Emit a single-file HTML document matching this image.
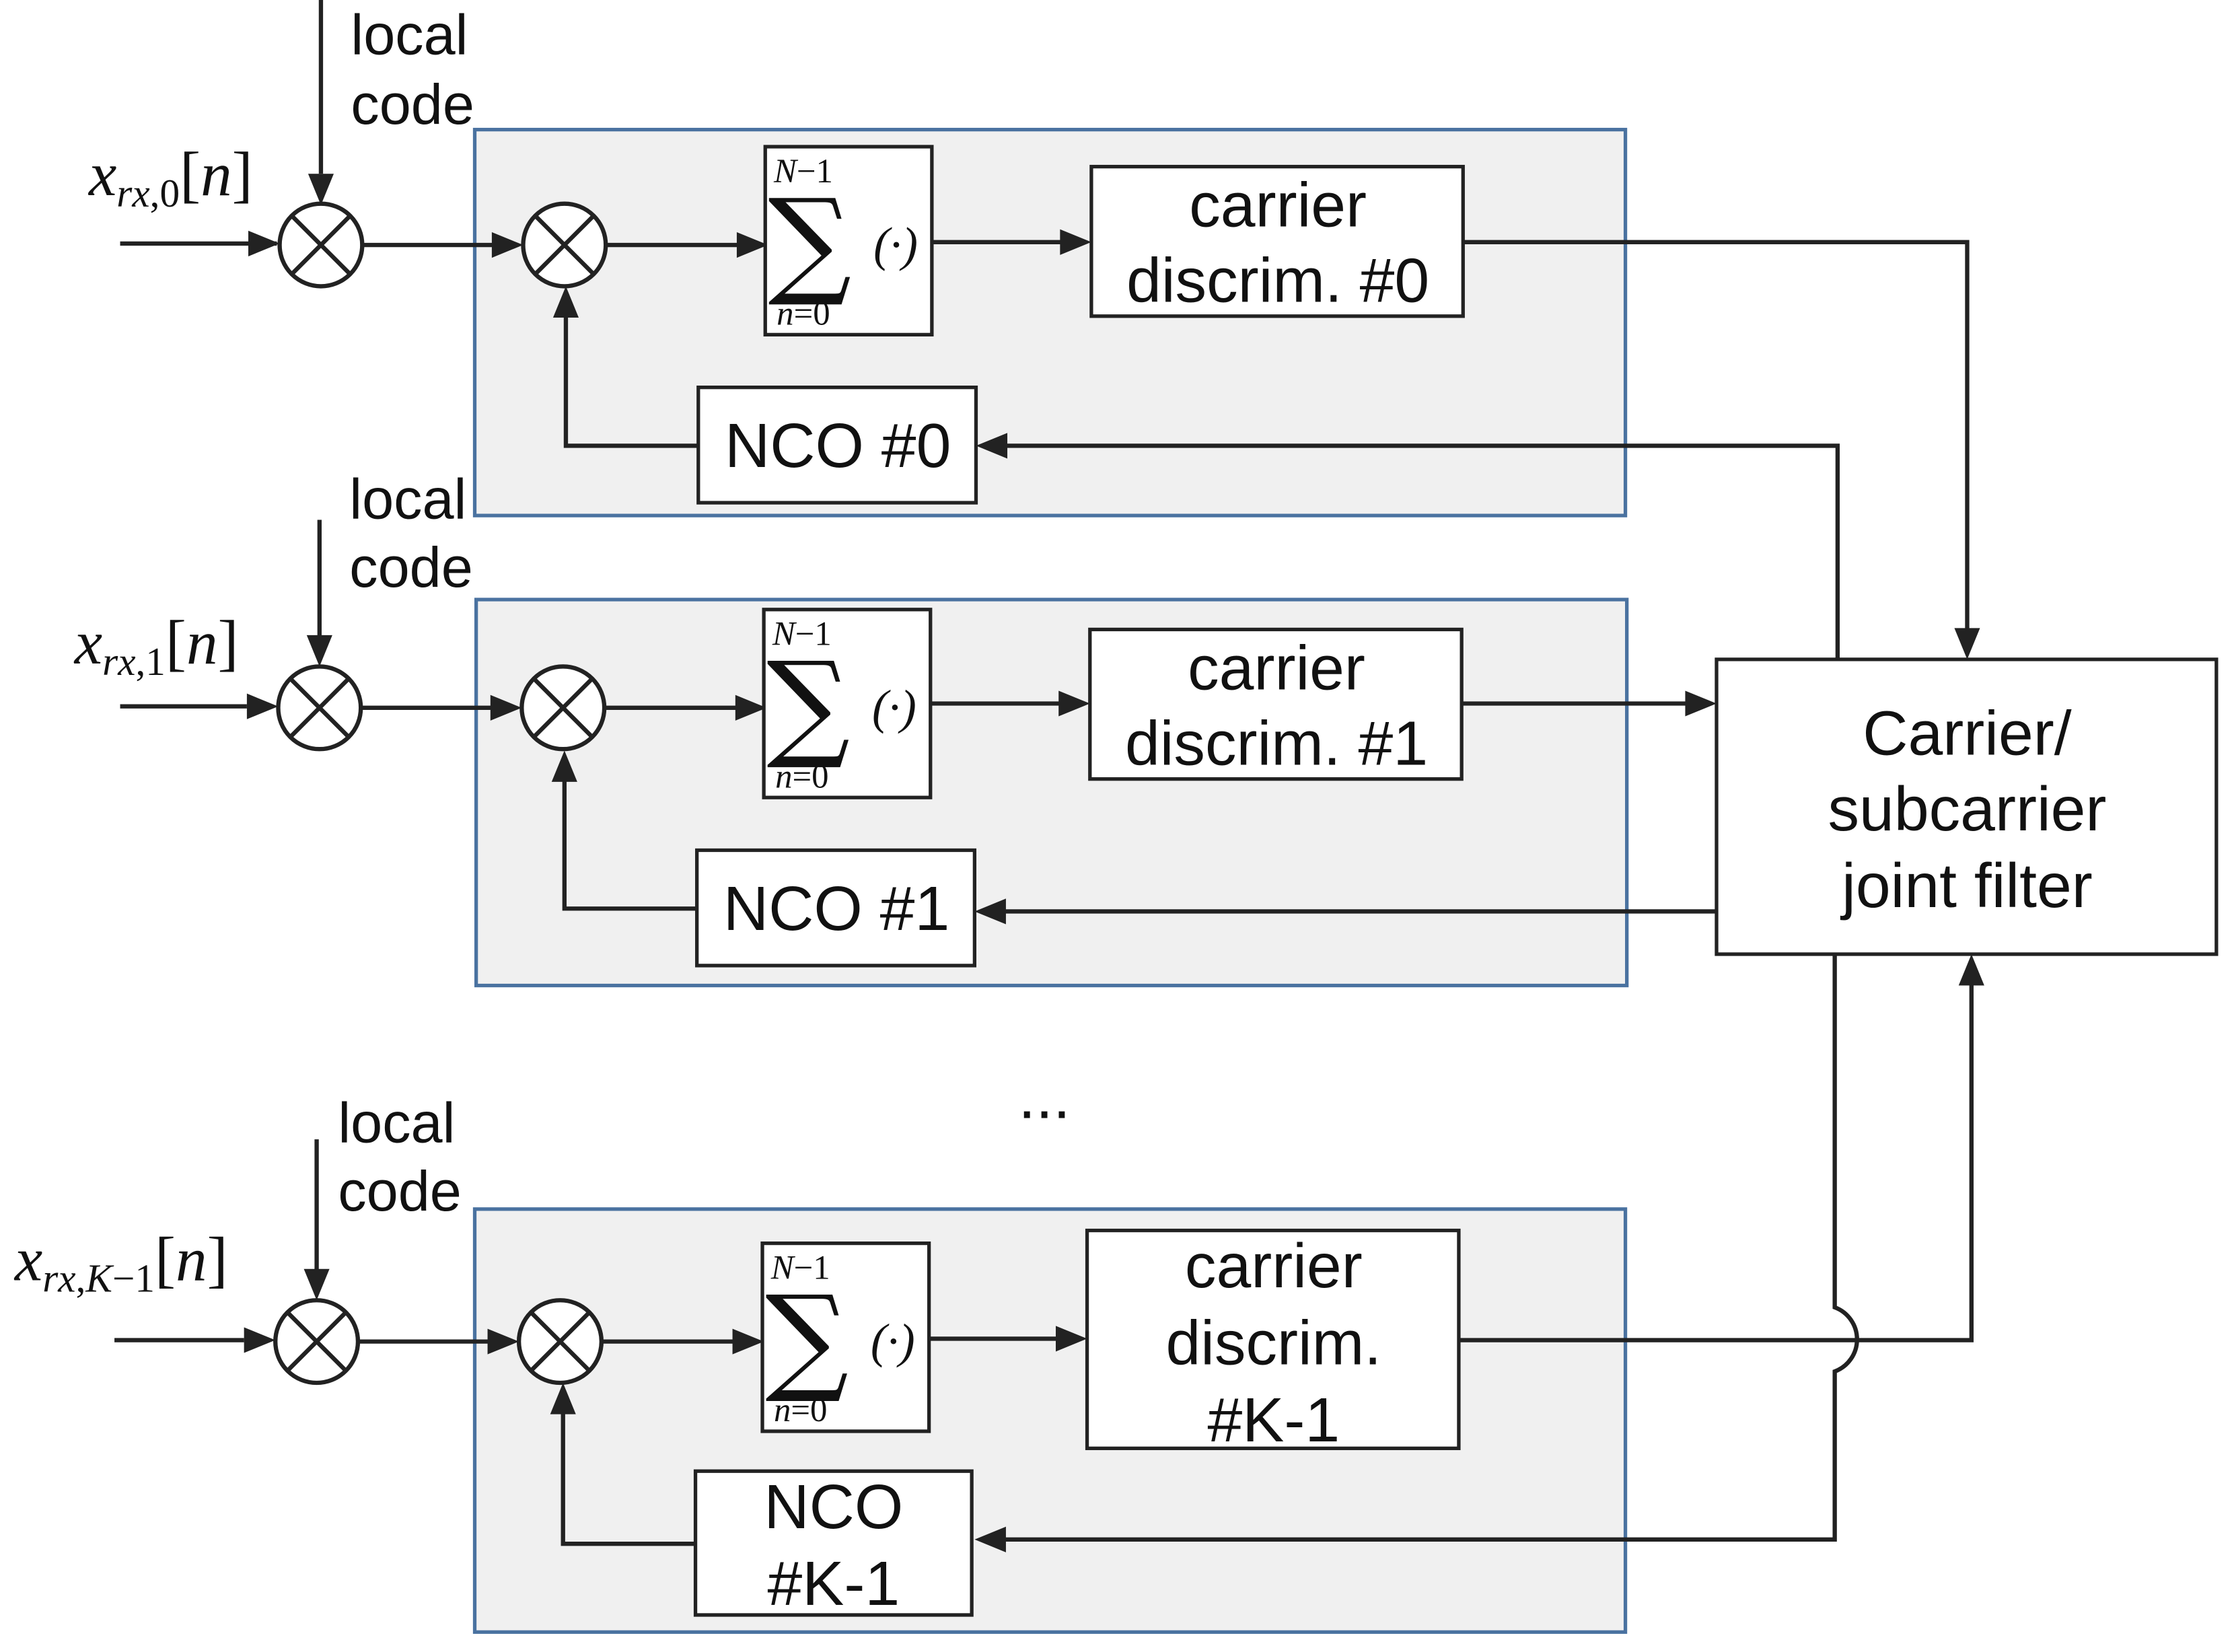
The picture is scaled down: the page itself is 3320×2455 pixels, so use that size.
<!DOCTYPE html>
<html><head><meta charset="utf-8"><style>
html,body{margin:0;padding:0;background:#fff}
svg{display:block}
.t{font-family:"Liberation Sans",sans-serif;fill:#111}
.m{font-family:"Liberation Serif",serif;font-style:italic;fill:#111}
</style></head><body>
<svg width="3320" height="2455" viewBox="0 0 1568 1160" xmlns="http://www.w3.org/2000/svg">
<defs>
<g id="mx"><circle cx="0" cy="0" r="29"/><line x1="-20.5" y1="-20.5" x2="20.5" y2="20.5"/><line x1="-20.5" y1="20.5" x2="20.5" y2="-20.5"/></g>
<g id="s0">
<text class="m" x="543" y="128" font-size="24">N<tspan font-style="normal">−1</tspan></text>
<text x="539" y="198" font-size="82" style="font-family:'DejaVu Serif',serif;fill:#111">∑</text>
<text class="m" x="613" y="183" font-size="34" font-style="normal">(·)</text>
<text class="m" x="545" y="228" font-size="24">n<tspan font-style="normal">=0</tspan></text>
</g>
</defs>
<g fill="#f0f0f0" stroke="#4a72a0" stroke-width="2.5">
<rect x="333" y="91" width="808" height="271"/>
<rect x="334" y="421" width="808" height="271"/>
<rect x="333" y="849" width="808" height="297"/>
</g>
<g stroke="#222" stroke-width="3" fill="none">
<line x1="84" y1="171" x2="194" y2="171"/>
<line x1="225" y1="0" x2="225" y2="122"/>
<line x1="254" y1="172" x2="346" y2="172"/>
<line x1="425" y1="172" x2="518" y2="172"/>
<line x1="654" y1="170" x2="746" y2="170"/>
<polyline points="490,313 397,313 397,222"/>
<polyline points="1027,170 1381,170 1381,442"/>
<polyline points="1290,462 1290,313 706,313"/>
<line x1="84" y1="496" x2="173" y2="496"/>
<line x1="224" y1="365" x2="224" y2="447"/>
<line x1="253" y1="497" x2="345" y2="497"/>
<line x1="424" y1="497" x2="517" y2="497"/>
<line x1="653" y1="494" x2="745" y2="494"/>
<line x1="1027" y1="494" x2="1185" y2="494"/>
<line x1="1205" y1="640" x2="705" y2="640"/>
<polyline points="489,638 396,638 396,548"/>
<line x1="80" y1="941" x2="171" y2="941"/>
<line x1="222" y1="800" x2="222" y2="892"/>
<line x1="251" y1="942" x2="343" y2="942"/>
<line x1="422" y1="942" x2="515" y2="942"/>
<line x1="652" y1="940" x2="743" y2="940"/>
<polyline points="1024,941 1384,941 1384,691"/>
<path d="M1288,670 L1288,918 A24,24 0 0 1 1288,963 L1288,1081 L705,1081"/>
<polyline points="488,1084 395,1084 395,992"/>
</g>
<g fill="#222">
<polygon points="196,171 174,162 174,180"/>
<polygon points="225,144 216,122 234,122"/>
<polygon points="367,172 345,163 345,181"/>
<polygon points="539,172 517,163 517,181"/>
<polygon points="766,170 744,161 744,179"/>
<polygon points="397,201 388,223 406,223"/>
<polygon points="1381,463 1372,441 1390,441"/>
<polygon points="685,313 707,304 707,322"/>
<polygon points="195,496 173,487 173,505"/>
<polygon points="224,468 215,446 233,446"/>
<polygon points="366,497 344,488 344,506"/>
<polygon points="538,497 516,488 516,506"/>
<polygon points="765,494 743,485 743,503"/>
<polygon points="1205,494 1183,485 1183,503"/>
<polygon points="684,640 706,631 706,649"/>
<polygon points="396,527 387,549 405,549"/>
<polygon points="193,941 171,932 171,950"/>
<polygon points="222,913 213,891 231,891"/>
<polygon points="364,942 342,933 342,951"/>
<polygon points="536,942 514,933 514,951"/>
<polygon points="763,940 741,931 741,949"/>
<polygon points="1384,670 1375,692 1393,692"/>
<polygon points="684,1081 706,1072 706,1090"/>
<polygon points="395,971 386,993 404,993"/>
</g>
<g stroke="#222" stroke-width="3" fill="#fff">
<use href="#mx" x="225" y="172"/><use href="#mx" x="396" y="172"/>
<use href="#mx" x="224" y="497"/><use href="#mx" x="395" y="497"/>
<use href="#mx" x="222" y="942"/><use href="#mx" x="393" y="942"/>
</g>
<g stroke="#222" stroke-width="2.5" fill="#fff">
<rect x="537" y="103" width="117" height="132"/>
<rect x="766" y="117" width="261" height="105"/>
<rect x="490" y="272" width="195" height="81"/>
<rect x="536" y="428" width="117" height="132"/>
<rect x="765" y="442" width="261" height="105"/>
<rect x="489" y="597" width="195" height="81"/>
<rect x="535" y="873" width="117" height="132"/>
<rect x="763" y="864" width="261" height="153"/>
<rect x="488" y="1033" width="194" height="101"/>
<rect x="1205" y="463" width="351" height="207"/>
</g>
<use href="#s0"/>
<use href="#s0" x="-1" y="325"/>
<use href="#s0" x="-2" y="770"/>
<g class="t" font-size="44" text-anchor="middle">
<text x="897" y="159">carrier</text><text x="897" y="212">discrim. #0</text>
<text x="588" y="328">NCO #0</text>
<text x="896" y="484">carrier</text><text x="896" y="537">discrim. #1</text>
<text x="587" y="653">NCO #1</text>
<text x="894" y="904">carrier</text><text x="894" y="958">discrim.</text><text x="894" y="1012">#K-1</text>
<text x="585" y="1073">NCO</text><text x="585" y="1127">#K-1</text>
<text x="1381" y="530">Carrier/</text><text x="1381" y="583">subcarrier</text><text x="1381" y="637">joint filter</text>
<text x="733" y="785">...</text>
</g>
<g class="t" font-size="40">
<text x="246" y="38">local</text><text x="246" y="87">code</text>
<text x="245" y="364">local</text><text x="245" y="412">code</text>
<text x="237" y="802">local</text><text x="237" y="850">code</text>
</g>
<g class="m" font-size="44">
<text x="62" y="137">x<tspan font-size="28" dy="8">rx<tspan font-style="normal">,0</tspan></tspan><tspan dy="-8" font-style="normal">[</tspan>n<tspan font-style="normal">]</tspan></text>
<text x="52" y="466">x<tspan font-size="28" dy="8">rx<tspan font-style="normal">,1</tspan></tspan><tspan dy="-8" font-style="normal">[</tspan>n<tspan font-style="normal">]</tspan></text>
<text x="10" y="899">x<tspan font-size="28" dy="8">rx<tspan font-style="normal">,</tspan>K<tspan font-style="normal">−1</tspan></tspan><tspan dy="-8" font-style="normal">[</tspan>n<tspan font-style="normal">]</tspan></text>
</g>
</svg>
</body></html>
